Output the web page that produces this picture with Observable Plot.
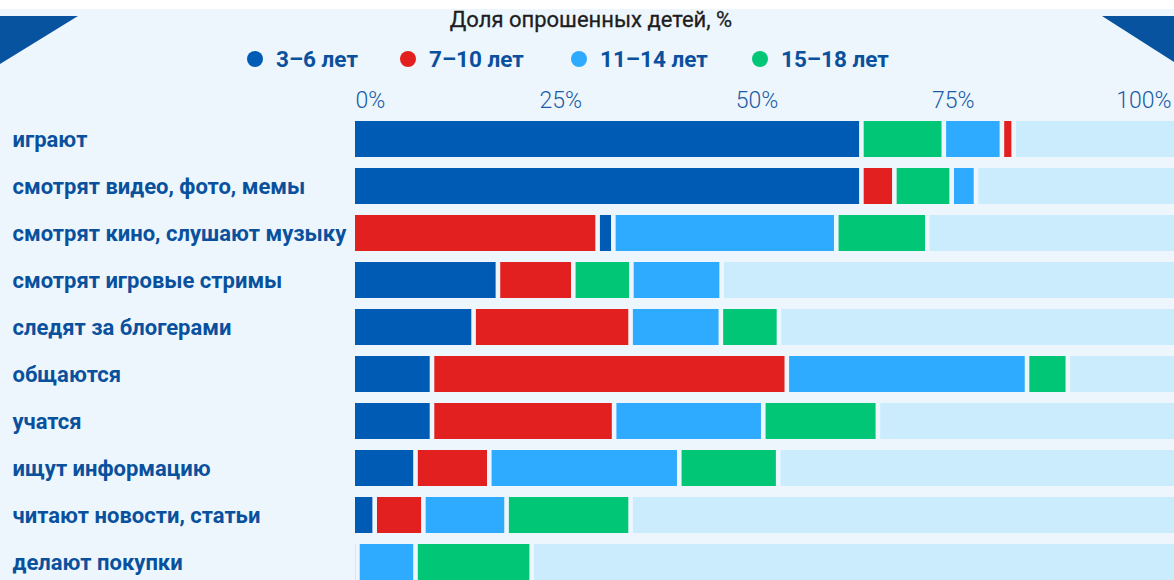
<!DOCTYPE html>
<html>
<head>
<meta charset="utf-8">
<script src="https://cdn.jsdelivr.net/npm/d3@7"></script>
<script src="https://cdn.jsdelivr.net/npm/@observablehq/plot@0.6"></script>
<style>
  html, body { margin: 0; padding: 0; width: 1174px; height: 580px; overflow: hidden; background: #edf6fd; font-family: Roboto, "Noto Sans", sans-serif; }
  #header { position: relative; width: 1174px; height: 85px; }
  #strip { position: absolute; left: 0; top: 0; width: 1174px; height: 9px; background: #ffffff; }
  #deco { position: absolute; left: 0; top: 0; }
  #title { position: absolute; left: 0; width: 1182px; top: 7px; text-align: center; font-size: 22px; font-weight: 400; color: #1e1e1e; -webkit-text-stroke: 0.3px #1e1e1e; }
  #legend { position: absolute; left: 0; top: 44px; width: 1174px; height: 30px; }
  .item { position: absolute; top: 0; height: 30px; display: flex; align-items: center; font-size: 22.5px; font-weight: 700; color: #0a519d; white-space: nowrap; }
  .dot { width: 16px; height: 16px; border-radius: 50%; margin-right: 13px; flex: none; }
</style>
</head>
<body>
<div id="header">
  <div id="strip"></div>
  <svg id="deco" width="1174" height="85">
    <polygon points="0,16 78,16 0,64" fill="#07539f"></polygon>
    <polygon points="1102,16 1174,16 1174,62" fill="#07539f"></polygon>
  </svg>
  <div id="title">Доля опрошенных детей, %</div>
  <div id="legend"></div>
</div>
<div id="chart"></div>
<script>
// ---- data ----
const categories = [
  "играют",
  "смотрят видео, фото, мемы",
  "смотрят кино, слушают музыку",
  "смотрят игровые стримы",
  "следят за блогерами",
  "общаются",
  "учатся",
  "ищут информацию",
  "читают новости, статьи",
  "делают покупки"
];
const ages = ["3–6 лет", "7–10 лет", "11–14 лет", "15–18 лет"];
const ageColors = ["#005bb5", "#e32020", "#2eabff", "#00c675"];
const values3_6   = [64.8, 64.8,  2.0, 18.5, 15.4, 10.1, 10.1,  8.0,  2.8, 0];
const values7_10  = [ 1.5,  4.2, 31.2,  9.6, 20.0, 45.2, 23.2,  9.4,  6.2, 0.6];
const values11_14 = [ 7.4,  3.1, 28.4, 11.5, 11.5, 30.6, 19.0, 24.2, 10.6, 7.4];
const values15_18 = [10.5,  7.3, 11.6,  7.4,  7.4,  5.2, 14.6, 12.6, 15.8, 14.8];
// order of segments inside each bar (indices into ages)
const segmentOrder = [
  [0, 3, 2, 1],
  [0, 1, 3, 2],
  [1, 0, 2, 3],
  [0, 1, 3, 2],
  [0, 1, 2, 3],
  [0, 1, 2, 3],
  [0, 1, 2, 3],
  [0, 1, 2, 3],
  [0, 1, 2, 3],
  [0, 1, 2, 3]
];
const xTicks = [0, 25, 50, 75, 100];

// ---- build ----
const series = [values3_6, values7_10, values11_14, values15_18];
const rows = [];
categories.forEach((c, i) => {
  segmentOrder[i].forEach(k => {
    const v = series[k][i];
    if (v > 0) rows.push({category: c, age: ages[k], value: v});
  });
});
const totals = categories.map((c, i) => d3.sum(series, s => s[i]));
const XMAX = 104.33;

// legend
const legend = document.getElementById("legend");
const legendLeft = [247, 400, 571, 752];
ages.forEach((a, i) => {
  const it = document.createElement("div");
  it.className = "item";
  it.style.left = legendLeft[i] + "px";
  it.innerHTML = `<span class="dot" style="background:${ageColors[i]}"></span><span>${a}</span>`;
  legend.appendChild(it);
});

const tickStyle = {anchor: "top", tickSize: 0, tickPadding: 2, tickFormat: d => d + "%", fontSize: 23, fill: "#1a5ca6", fontWeight: 300, label: null};

const chart = Plot.plot({
  width: 1174,
  height: 495,
  marginLeft: 355,
  marginRight: 0,
  marginTop: 24,
  marginBottom: 0,
  style: {fontFamily: "Roboto, 'Noto Sans', sans-serif", background: "transparent"},
  x: {domain: [0, XMAX], axis: null},
  y: {domain: categories, range: [23.65, 508], padding: 0.24, axis: null},
  color: {domain: ages, range: ageColors},
  marks: [
    Plot.barX(categories, {y: d => d, x1: (d, i) => totals[i], x2: XMAX, fill: "#cbecfd"}),
    Plot.barX(rows, Plot.stackX({y: "category", x: "value", fill: "age", order: null, insetRight: 4.6})),
    Plot.axisX(xTicks.slice(0, 1), {...tickStyle, textAnchor: "start"}),
    Plot.axisX(xTicks.slice(1, 4), {...tickStyle, dx: 9}),
    Plot.axisX(xTicks.slice(4), {...tickStyle, textAnchor: "end", dx: 31}),
    Plot.axisY({anchor: "left", tickSize: 0, tickPadding: 343, textAnchor: "start", fontSize: 22, fontWeight: 700, fill: "#0a519d", label: null})
  ]
});
document.getElementById("chart").appendChild(chart);
</script>
</body>
</html>
